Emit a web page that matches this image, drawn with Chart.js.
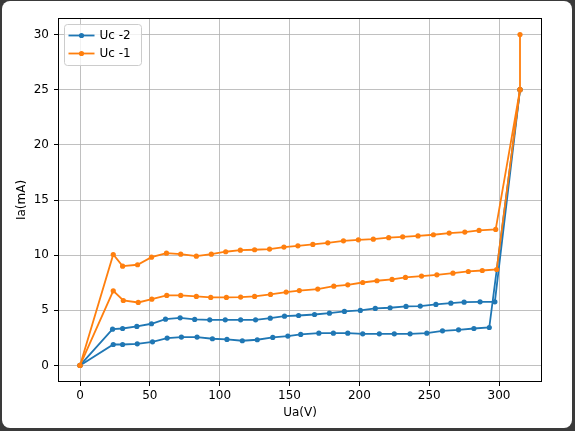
<!DOCTYPE html>
<html><head><meta charset="utf-8">
<script src="https://cdn.jsdelivr.net/npm/chart.js@4.4.0/dist/chart.umd.min.js"></script>
<style>
html,body{margin:0;padding:0;width:575px;height:431px;overflow:hidden;background:#3a3a3a;}
#bg{position:absolute;left:2px;top:1px;width:570px;height:427px;background:#fff;border-radius:8px;}
#c{position:absolute;left:0;top:0;}
</style></head><body>
<div id="bg"></div>
<canvas id="c" width="575" height="431"></canvas>
<script>
const xTicks = [0, 50, 100, 150, 200, 250, 300];
const yTicks = [0, 5, 10, 15, 20, 25, 30];
const legendNames = ['Uc -2', 'Uc -1'];

// Uc -2, run A (upper blue)
const uc2aX = [0, 23.3, 30.5, 40.7, 51.2, 61.2, 71.7, 82.1, 92.9, 104, 115, 125.7, 136.2, 146.4, 156.5, 167.9, 178.6, 189.3, 200.7, 211.4, 222, 233.4, 243.6, 254.8, 265.5, 275, 286.4, 297, 315];
const uc2aY = [0, 3.29, 3.35, 3.54, 3.78, 4.2, 4.32, 4.17, 4.14, 4.14, 4.14, 4.14, 4.29, 4.47, 4.53, 4.62, 4.74, 4.9, 4.99, 5.17, 5.23, 5.35, 5.38, 5.53, 5.65, 5.74, 5.77, 5.77, 25];
// Uc -2, run B (lower blue)
const uc2bX = [0, 23.8, 30.5, 41, 51.9, 62.4, 72.6, 83.8, 94.8, 105.2, 116.2, 126.9, 138, 148.8, 158, 171, 181.4, 191.7, 202.4, 214.3, 225, 236.3, 248.3, 259.5, 271, 282, 293, 315];
const uc2bY = [0, 1.9, 1.9, 1.96, 2.14, 2.48, 2.57, 2.57, 2.42, 2.36, 2.24, 2.33, 2.54, 2.66, 2.81, 2.93, 2.93, 2.93, 2.87, 2.87, 2.87, 2.87, 2.93, 3.14, 3.23, 3.35, 3.44, 25];
// Uc -1, run A (upper orange)
const uc1aX = [0, 23.8, 30.5, 41.2, 51.2, 61.9, 72.1, 83.3, 94, 104.3, 114.8, 125, 135.7, 146, 156, 166.7, 177.4, 188.6, 199.3, 210, 221, 231, 242, 253, 264.3, 275.5, 285.7, 297.6, 315, 315];
const uc1aY = [0, 10.06, 9.0, 9.13, 9.82, 10.18, 10.09, 9.91, 10.09, 10.31, 10.45, 10.49, 10.55, 10.73, 10.85, 10.97, 11.12, 11.3, 11.39, 11.45, 11.58, 11.66, 11.74, 11.85, 12.0, 12.09, 12.24, 12.33, 25, 30];
// Uc -1, run B (lower orange)
const uc1bX = [0, 23.8, 31, 41.7, 51.4, 62.1, 72.1, 83.3, 93.6, 104.8, 115, 125, 136.4, 147.6, 157, 170.2, 181.7, 191.7, 202.4, 212.6, 223.4, 233, 244.5, 255.5, 267, 278, 288, 298.3, 315];
const uc1bY = [0, 6.77, 5.89, 5.71, 6.01, 6.35, 6.35, 6.26, 6.17, 6.17, 6.2, 6.26, 6.44, 6.65, 6.79, 6.92, 7.19, 7.31, 7.52, 7.68, 7.8, 7.98, 8.1, 8.22, 8.37, 8.52, 8.61, 8.7, 25];

const BLUE = '#1f77b4', ORANGE = '#ff7f0e';
const pts = (xs, ys) => xs.map((x, i) => ({x: x, y: ys[i]}));
const mk = (label, xs, ys, color, order, inLegend) => ({
  label: label, data: pts(xs, ys), showLine: true,
  borderColor: color, backgroundColor: color, pointBackgroundColor: color,
  borderWidth: 1.8, pointRadius: 2.6, pointBorderWidth: 0, order: order,
  inLegend: inLegend
});

Chart.defaults.font.family = "'DejaVu Sans', sans-serif";
Chart.defaults.font.size = 12;
Chart.defaults.color = '#000';

const framePlugin = {
  id: 'frame',
  afterDatasetsDraw(chart) {
    const a = chart.chartArea, ctx = chart.ctx;
    ctx.save();
    ctx.strokeStyle = '#000'; ctx.lineWidth = 1;
    ctx.strokeRect(Math.round(a.left) + 0.5, Math.round(a.top) + 0.5, Math.round(a.right - a.left) - 1, Math.round(a.bottom - a.top) - 1);
    ctx.restore();
  }
};

const legendPlugin = {
  id: 'mplLegend',
  afterDraw(chart) {
    const a = chart.chartArea, ctx = chart.ctx;
    const items = chart.data.datasets.filter(d => d.inLegend);
    const x0 = a.left + 6.5, y0 = a.top + 6.5, w = 77, h = 41, r = 3;
    ctx.save();
    ctx.beginPath();
    ctx.moveTo(x0 + r, y0); ctx.lineTo(x0 + w - r, y0); ctx.arcTo(x0 + w, y0, x0 + w, y0 + r, r);
    ctx.lineTo(x0 + w, y0 + h - r); ctx.arcTo(x0 + w, y0 + h, x0 + w - r, y0 + h, r);
    ctx.lineTo(x0 + r, y0 + h); ctx.arcTo(x0, y0 + h, x0, y0 + h - r, r);
    ctx.lineTo(x0, y0 + r); ctx.arcTo(x0, y0, x0 + r, y0, r); ctx.closePath();
    ctx.fillStyle = 'rgba(255,255,255,0.8)'; ctx.fill();
    ctx.strokeStyle = '#cccccc'; ctx.lineWidth = 1; ctx.stroke();
    items.forEach((d, i) => {
      const y = y0 + 11 + i * 18;
      ctx.strokeStyle = d.borderColor; ctx.lineWidth = 1.8;
      ctx.beginPath(); ctx.moveTo(x0 + 4, y); ctx.lineTo(x0 + 30, y); ctx.stroke();
      ctx.fillStyle = d.borderColor;
      ctx.beginPath(); ctx.arc(x0 + 17, y, 2.6, 0, Math.PI * 2); ctx.fill();
      ctx.fillStyle = '#000'; ctx.font = "12px 'DejaVu Sans'"; ctx.textBaseline = 'middle'; ctx.textAlign = 'left';
      ctx.fillText(d.label, x0 + 35, y);
    });
    ctx.restore();
  }
};

new Chart(document.getElementById('c'), {
  type: 'scatter',
  data: {
    datasets: [
      mk(legendNames[0], uc2aX, uc2aY, BLUE, 3, true),
      mk(legendNames[1], uc1aX, uc1aY, ORANGE, 1, true),
      mk(legendNames[0], uc2bX, uc2bY, BLUE, 2, false),
      mk(legendNames[1], uc1bX, uc1bY, ORANGE, 0, false)
    ]
  },
  options: {
    responsive: false, animation: false, events: [],
    layout: {padding: {left: 0, top: 18, right: 33, bottom: 0}},
    plugins: {legend: {display: false}, tooltip: {enabled: false}},
    scales: {
      x: {
        type: 'linear', min: -15.75, max: 330.75,
        afterBuildTicks: s => { s.ticks = xTicks.map(v => ({value: v})); },
        afterFit: s => { s.height = 49; },
        grid: {color: '#b0b0b0', lineWidth: 0.8, tickColor: '#000', tickLength: 4, tickWidth: 1},
        border: {display: false},
        ticks: {color: '#000', padding: 3, maxRotation: 0, font: {size: 12}},
        title: {display: true, text: 'Ua(V)', color: '#000', font: {size: 12}, padding: {top: 0, bottom: 11}}
      },
      y: {
        type: 'linear', min: -1.5, max: 31.5,
        afterBuildTicks: s => { s.ticks = yTicks.map(v => ({value: v})); },
        afterFit: s => { s.width = 58; },
        grid: {color: '#b0b0b0', lineWidth: 0.8, tickColor: '#000', tickLength: 4, tickWidth: 1},
        border: {display: false},
        ticks: {color: '#000', padding: 5, font: {size: 12}},
        title: {display: true, text: 'Ia(mA)', color: '#000', font: {size: 12}, padding: {top: 15, bottom: 0}}
      }
    }
  },
  plugins: [framePlugin, legendPlugin]
});
</script>
</body></html>
